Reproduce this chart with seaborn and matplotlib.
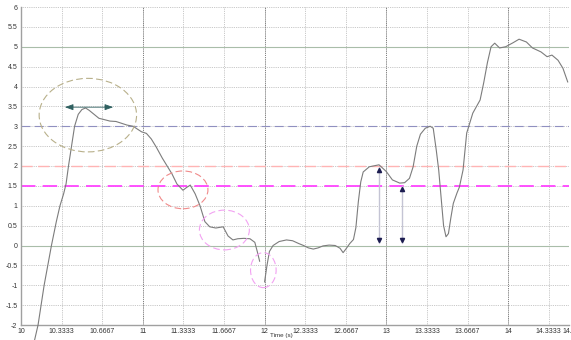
import pandas as pd
import matplotlib
matplotlib.use('Agg')
import matplotlib.pyplot as plt
from matplotlib.patches import Ellipse
import seaborn as sns

# Signal trace (two pieces, the trace breaks just before t = 12)
time = [10.11, 10.14, 10.19, 10.25, 10.29, 10.32, 10.35, 10.37, 10.39, 10.42,
        10.44, 10.47, 10.50, 10.53, 10.56, 10.60, 10.64, 10.68, 10.73, 10.78,
        10.82, 10.87, 10.92, 10.96, 10.99, 11.03, 11.07, 11.11, 11.16, 11.20,
        11.24, 11.28, 11.33, 11.36, 11.39, 11.43, 11.47, 11.51, 11.55, 11.60,
        11.66, 11.70, 11.74, 11.78, 11.83, 11.88, 11.92, 11.94, 11.96,
        12.00, 12.02, 12.04, 12.07, 12.12, 12.18, 12.23, 12.28, 12.32, 12.36,
        12.40, 12.44, 12.48, 12.53, 12.58, 12.62, 12.645, 12.67, 12.70, 12.73,
        12.75, 12.77, 12.79, 12.81, 12.86, 12.94, 13.00, 13.05, 13.11, 13.15,
        13.19, 13.22, 13.25, 13.28, 13.32, 13.36, 13.385, 13.41, 13.43, 13.45,
        13.47, 13.49, 13.51, 13.53, 13.55, 13.58, 13.60, 13.63, 13.66, 13.71,
        13.77, 13.80, 13.83, 13.86, 13.89, 13.93, 13.98, 14.04, 14.09, 14.15,
        14.20, 14.27, 14.32, 14.36, 14.41, 14.45, 14.49]
signal = [-2.4, -2.0, -1.0, 0.0, 0.6, 1.0, 1.3, 1.55, 2.0, 2.6,
          3.0, 3.3, 3.42, 3.46, 3.4, 3.3, 3.2, 3.17, 3.13, 3.12,
          3.08, 3.03, 3.0, 2.92, 2.86, 2.82, 2.68, 2.48, 2.2, 2.0,
          1.8, 1.55, 1.39, 1.46, 1.52, 1.3, 1.0, 0.6, 0.47, 0.44,
          0.47, 0.24, 0.14, 0.17, 0.18, 0.17, 0.08, -0.15, -0.40,
          -0.92, -0.5, -0.15, 0.0, 0.1, 0.14, 0.12, 0.05, 0.0, -0.06,
          -0.09, -0.06, -0.01, 0.01, 0.0, -0.07, -0.18, -0.08, 0.05, 0.15,
          0.45, 1.1, 1.6, 1.85, 1.98, 2.03, 1.86, 1.65, 1.57, 1.58,
          1.69, 1.98, 2.5, 2.8, 2.95, 3.0, 2.95, 2.4, 1.9, 1.2,
          0.5, 0.22, 0.3, 0.7, 1.06, 1.32, 1.47, 1.9, 2.83, 3.33,
          3.66, 4.1, 4.6, 5.0, 5.09, 4.97, 5.0, 5.1, 5.19, 5.12,
          4.97, 4.87, 4.75, 4.79, 4.66, 4.46, 4.11]
break_time = 11.98  # the trace is not drawn across this point

# Reference levels
levels = [5, 3, 2, 1.5, 0]
level_colors = ['#a9bda9', '#9090c0', '#ffb4b4', '#ff44ff', '#a9bda9']
level_styles = ['-', (0, (8, 4)), (0, (8, 4)), (0, (8, 4)), '-']
level_widths = [0.8, 0.8, 1.0, 1.3, 0.8]

# Marked regions: centre time, centre value, width, height
ring_t = [10.549, 11.33, 11.67, 11.99]
ring_v = [3.28, 1.4, 0.39, -0.62]
ring_w = [0.80, 0.41, 0.41, 0.21]
ring_h = [1.85, 0.95, 1.0, 0.88]
ring_colors = ['#b8b08a', '#f08a8a', '#f2a2f2', '#f2a2f2']

# Vertical measuring arrows: time, top, bottom
arrow_t = [12.94, 13.128]
arrow_top = [1.98, 1.5]
arrow_bottom = [0.06, 0.06]

x_ticks = [10, 10.3333, 10.6667, 11, 11.3333, 11.6667, 12, 12.3333, 12.6667,
           13, 13.3333, 13.6667, 14, 14.3333, 14.5]
x_labels = ['10', '10.3333', '10.6667', '11', '11.3333', '11.6667', '12', '12.3333',
            '12.6667', '13', '13.3333', '13.6667', '14', '14.3333', '14.5']
y_ticks = [-2, -1.5, -1, -0.5, 0, 0.5, 1, 1.5, 2, 2.5, 3, 3.5, 4, 4.5, 5, 5.5, 6]

sns.set_style('whitegrid')
plt.rcParams['font.family'] = ['Liberation Sans', 'DejaVu Sans']

fig = plt.figure(figsize=(5.71, 3.40), dpi=100)
ax = fig.add_axes([21 / 571, 15 / 340, 548 / 571, 318 / 340])

df = pd.DataFrame({'time': time, 'signal': signal})
df['piece'] = (df['time'] > break_time).astype(int)

ax.set_xlim(10, 14.5)
ax.set_ylim(-2, 6)

# Grid
ax.grid(True, color='#b5b5b5', linestyle=(0, (1, 1.2)), linewidth=0.6)
for t in [11, 12, 13, 14]:
    ax.axvline(t, color='#7a7a7a', linestyle=(0, (1, 1.2)), linewidth=0.7, zorder=1)

# Reference lines
for lv, c, ls, lw in zip(levels, level_colors, level_styles, level_widths):
    ax.axhline(lv, color=c, linestyle=ls, linewidth=lw, zorder=2)

# Signal
sns.lineplot(data=df, x='time', y='signal', units='piece', estimator=None,
             sort=False, color='#7c7c7c', linewidth=0.8, legend=False,
             clip_on=False, ax=ax, zorder=3)

# Dashed rings
for t, v, w, h, c in zip(ring_t, ring_v, ring_w, ring_h, ring_colors):
    ax.add_patch(Ellipse((t, v), w, h, fill=False, edgecolor=c,
                         linestyle=(0, (6, 3)), linewidth=0.8, zorder=4))

# Horizontal arrow in the first ring
ax.annotate('', xy=(10.36, 3.48), xytext=(10.757, 3.48),
            arrowprops=dict(arrowstyle='<|-|>,head_length=0.5,head_width=0.18',
                            color='#2f6060', linewidth=0.6, shrinkA=0, shrinkB=0),
            zorder=5)

# Vertical arrows
for t, top, bot in zip(arrow_t, arrow_top, arrow_bottom):
    ax.plot([t, t], [top, bot], color='#c4c4d4', linewidth=1.0, zorder=5)
    ax.plot([t], [top - 0.07], marker='^', color='#1c1c50', markersize=3, zorder=6)
    ax.plot([t], [bot + 0.07], marker='v', color='#1c1c50', markersize=3, zorder=6)

ax.set_xticks(x_ticks)
ax.set_xticklabels(x_labels)
ax.set_yticks(y_ticks)
ax.set_yticklabels(['%g' % v for v in y_ticks])
ax.tick_params(axis='both', labelsize=5, colors='#333333', length=2, pad=0.5,
               width=0.5)
ax.set_xlabel('Time (s)', fontsize=4.5, color='#333333')
ax.xaxis.set_label_coords(0.475, -0.026)
ax.set_ylabel('')

for side in ['top', 'right']:
    ax.spines[side].set_visible(False)
for side in ['left', 'bottom']:
    ax.spines[side].set_color('#a0a0a0')
    ax.spines[side].set_linewidth(1.0)

fig.savefig('out.png', dpi=100)
